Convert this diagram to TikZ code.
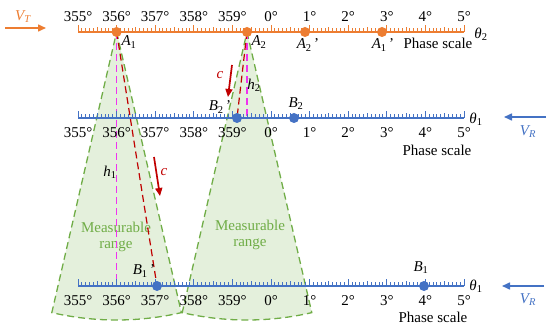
\documentclass[tikz,border=0pt]{standalone}
\usepackage{fontspec}
\setmainfont{Liberation Serif}
\usetikzlibrary{arrows.meta}
\definecolor{cOr}{RGB}{237,125,49}
\definecolor{cBl}{RGB}{68,114,196}
\definecolor{cGr}{RGB}{112,173,71}
\definecolor{cFill}{RGB}{228,240,220}
\definecolor{cRed}{RGB}{192,0,0}
\definecolor{cMag}{RGB}{240,50,240}
\tikzset{
  conefill/.style={fill=cFill},
  coneedge/.style={draw=cGr,line width=1.3pt,dash pattern=on 7pt off 4pt},
  magline/.style={draw=cMag,line width=1.4pt,dash pattern=on 7pt off 4pt},
  redline/.style={draw=cRed,line width=1.2pt,dash pattern=on 7pt off 4pt},
  axisline/.style={line width=1.3pt},
  dot/.style={circle,fill,inner sep=0pt,minimum size=10pt},
  lab/.style={inner sep=0pt},
  carrow/.style={draw=cRed,line width=1.7pt,-{Triangle[length=8pt,width=7pt]}},
  varrow/.style={line width=1.5pt,-{Triangle[length=8pt,width=7pt]}},
  rangetxt/.style={text=cGr,align=center,inner sep=0pt,font=\fontsize{15}{15.5}\selectfont},
}
\begin{document}
\begin{tikzpicture}[x=1pt,y=-1pt,font=\fontsize{15}{16}\selectfont]
\useasboundingbox (0,0) rectangle (550,329);
% key points
\coordinate (A1) at (116.6,32);
\coordinate (A2) at (247,32);
\coordinate (A2p) at (305,32);
\coordinate (A1p) at (382,32);
\coordinate (B2p) at (237,118);
\coordinate (B2) at (294,118);
\coordinate (M2) at (247,118);
\coordinate (B1p) at (157,286);
\coordinate (B1) at (424,286);
\coordinate (M1) at (116.6,286);
% cones
\fill[conefill] (A1) -- ++(77:288) arc[start angle=77,end angle=103,radius=288] -- cycle;
\fill[conefill] (A2) -- ++(77:288) arc[start angle=77,end angle=103,radius=288] -- cycle;
\draw[coneedge] (A1) -- ++(77:288) arc[start angle=77,end angle=103,radius=288] -- cycle;
\draw[coneedge] (A2) -- ++(77:288) arc[start angle=77,end angle=103,radius=288] -- cycle;
\node[rangetxt] (R1) at (116,237) {Measurable\\range};
\node[rangetxt] (R2) at (250,235) {Measurable\\range};
% heights and signal lines
\draw[magline] (A1) -- (M1);
\draw[magline] (A2) -- (M2);
\draw[redline] (A1) -- (B1p);
\draw[redline] (A2) -- (B2p);
% axes
\foreach \ay/\col/\ly/\nm in {32/cOr/17/t,118/cBl/133/m,286/cBl/301/b}{
  \draw[axisline,\col] (78,\ay) -- (464,\ay);
  \foreach \i in {0,...,100}{
    \pgfmathsetmacro\h{ifthenelse(mod(\i,10)==0,7,ifthenelse(mod(\i,5)==0,5,4))}
    \draw[\col,line width=1pt] ({78+3.86*\i},\ay) -- ++(0,-\h);
  }
  \foreach \d/\t in {0/355,1/356,2/357,3/358,4/359,5/0,6/1,7/2,8/3,9/4,10/5}{
    \node[lab] (\nm\d) at ({78+38.6*\d},\ly) {\t°};
  }
}
% dots
\node[dot,cOr] (dA1) at (A1) {};
\node[dot,cOr] (dA2) at (A2) {};
\node[dot,cOr] (dA2p) at (A2p) {};
\node[dot,cOr] (dA1p) at (A1p) {};
\node[dot,cBl] (dB2p) at (B2p) {};
\node[dot,cBl] (dB2) at (B2) {};
\node[dot,cBl] (dB1p) at (B1p) {};
\node[dot,cBl] (dB1) at (B1) {};
% point labels
\node[lab] (lA1) at (129,42) {\textit{A}\textsubscript{1}};
\node[lab] (lA2) at (259,42) {\textit{A}\textsubscript{2}};
\node[lab] (lA2p) at (308,45) {\textit{A}\textsubscript{2}\,'};
\node[lab] (lA1p) at (383,45) {\textit{A}\textsubscript{1}\,'};
\node[lab] (lB2p) at (220,107) {\textit{B}\textsubscript{2}\,'};
\node[lab] (lB2) at (296,104) {\textit{B}\textsubscript{2}};
\node[lab] (lB1p) at (144,271) {\textit{B}\textsubscript{1}\,'};
\node[lab] (lB1) at (421,268) {\textit{B}\textsubscript{1}};
\node[lab] (lh1) at (110,172) {\textit{h}\textsubscript{1}};
\node[lab] (lh2) at (254,85) {\textit{h}\textsubscript{2}};
% theta and phase scale
\node[lab] (th2) at (481,34) {\textit{θ}\textsubscript{2}};
\node[lab] (thm) at (476,119) {\textit{θ}\textsubscript{1}};
\node[lab] (thb) at (476,286) {\textit{θ}\textsubscript{1}};
\node[lab] (ps1) at (438,43) {Phase scale};
\node[lab] (ps2) at (437,150) {Phase scale};
\node[lab] (ps3) at (433,317) {Phase scale};
% c arrows
\coordinate (c1s) at (232,65); \coordinate (c1e) at (228,97);
\coordinate (c2s) at (154,157); \coordinate (c2e) at (160,196);
\draw[carrow] (c1s) -- (c1e);
\draw[carrow] (c2s) -- (c2e);
\node[lab,text=cRed] (lc1) at (220,75) {\textit{c}};
\node[lab,text=cRed] (lc2) at (164,172) {\textit{c}};
% velocity arrows
\coordinate (vts) at (5,28); \coordinate (vte) at (46,28);
\draw[varrow,cOr] (vts) -- (vte);
\node[lab,text=cOr] (lvt) at (23,17) {\textit{V\textsubscript{T}}};
\coordinate (vr1s) at (546,117); \coordinate (vr1e) at (504,117);
\draw[varrow,cBl] (vr1s) -- (vr1e);
\node[lab,text=cBl] (lvr1) at (528,132) {\textit{V\textsubscript{R}}};
\coordinate (vr2s) at (544,286); \coordinate (vr2e) at (502,286);
\draw[varrow,cBl] (vr2s) -- (vr2e);
\node[lab,text=cBl] (lvr2) at (528,300) {\textit{V\textsubscript{R}}};
\end{tikzpicture}
\end{document}
